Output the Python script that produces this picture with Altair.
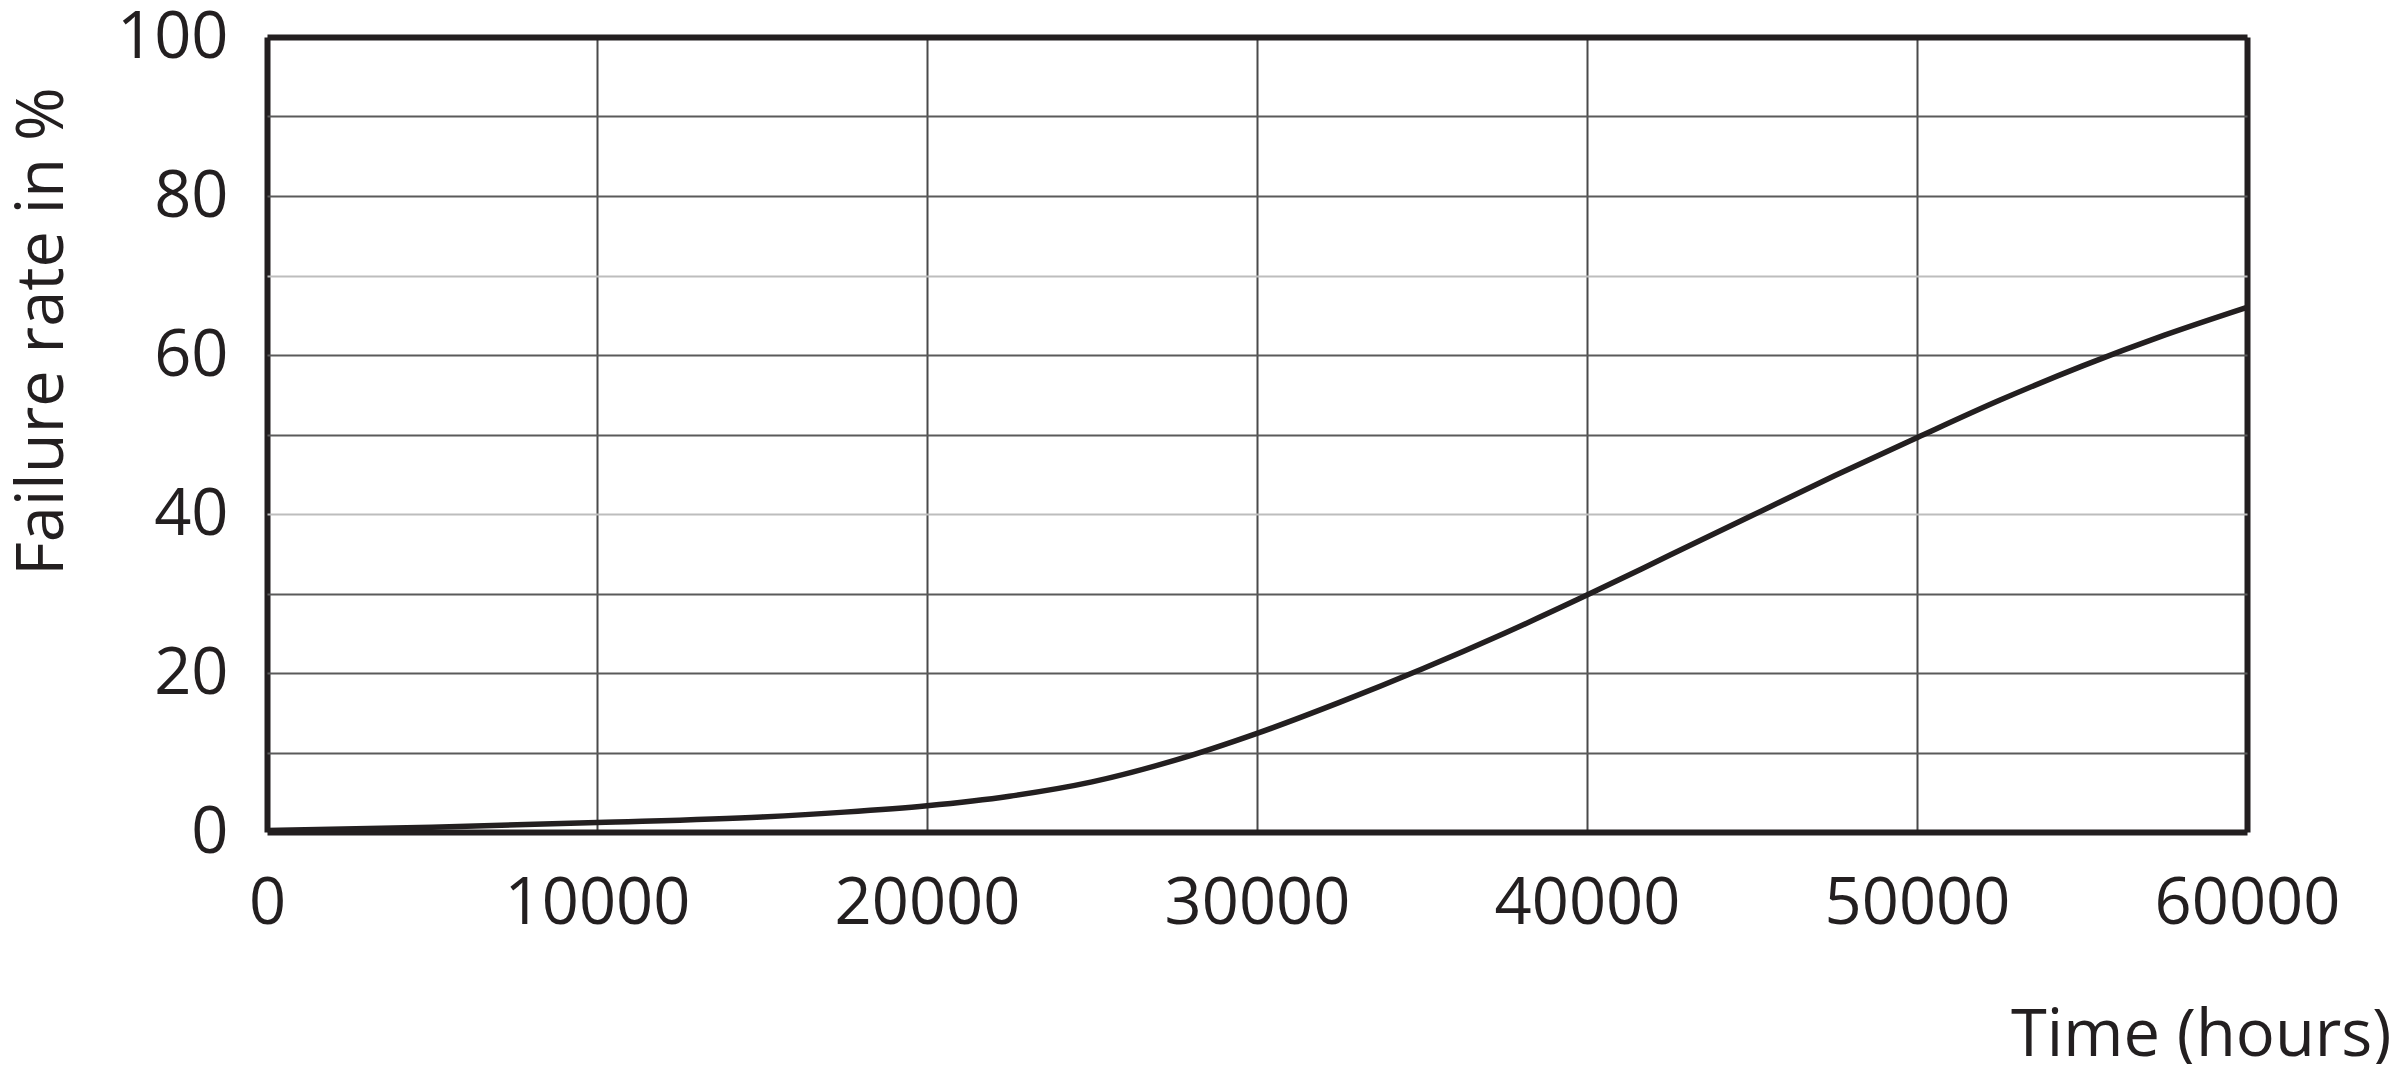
import altair as alt
import pandas as pd

# Time (hours) and failure rate (%)
hours = [0, 5000, 10000, 15000, 17500, 20000, 22500, 25000, 27500, 30000,
         32500, 35000, 37500, 40000, 42500, 45000, 47500, 50000, 52500,
         55000, 57500, 60000]
failure = [0.2, 0.6, 1.2, 1.9, 2.5, 3.3, 4.5, 6.3, 9.0, 12.4,
           16.3, 20.5, 25.0, 29.8, 34.8, 39.8, 44.8, 49.6, 54.3,
           58.6, 62.5, 66.0]

x_ticks = [0, 10000, 20000, 30000, 40000, 50000, 60000]
y_ticks = [0, 10, 20, 30, 40, 50, 60, 70, 80, 90, 100]

df = pd.DataFrame({"t": hours, "f": failure})

FONT = "Open Sans"
INK = "#231f20"

chart = (
    alt.Chart(df)
    .mark_line(color=INK, strokeWidth=5.5, interpolate="monotone", clip=True)
    .encode(
        x=alt.X(
            "t:Q",
            scale=alt.Scale(domain=[0, 60000], nice=False, zero=False),
            axis=alt.Axis(
                values=x_ticks,
                format="d",
                title="Time (hours)",
                titleFont=FONT,
                titleFontSize=65,
                titleFontWeight="normal",
                titleColor=INK,
                titleAlign="right",
                titleAnchor=None,
                titleX=2124,
                titleY=223,
                titleBaseline="alphabetic",
                titleLimit=0,
                labelFont=FONT,
                labelFontSize=65,
                labelColor=INK,
                labelPadding=40,
                labelLimit=0,
                labelFlush=False,
                labelOverlap=False,
                ticks=False,
                domain=False,
                grid=True,
                gridColor={
                    "condition": {
                        "test": "datum.value == 0 || datum.value == 60000",
                        "value": INK,
                    },
                    "value": "#4a4a4a",
                },
                gridWidth={
                    "condition": {
                        "test": "datum.value == 0 || datum.value == 60000",
                        "value": 6,
                    },
                    "value": 2,
                },
            ),
        ),
        y=alt.Y(
            "f:Q",
            scale=alt.Scale(domain=[0, 100], nice=False, zero=False),
            axis=alt.Axis(
                values=y_ticks,
                labelExpr="datum.value % 20 == 0 ? datum.label : ''",
                title="Failure rate in %",
                titleFont=FONT,
                titleFontSize=65,
                titleFontWeight="normal",
                titleColor=INK,
                titleAngle=-90,
                titleAlign="center",
                titleAnchor=None,
                titleBaseline="alphabetic",
                titleX=-205,
                titleY=294,
                titleLimit=0,
                labelFont=FONT,
                labelFontSize=65,
                labelColor=INK,
                labelPadding=39,
                labelLimit=0,
                labelFlush=False,
                labelOverlap=False,
                ticks=False,
                domain=False,
                grid=True,
                gridColor={
                    "condition": [
                        {"test": "datum.value == 0 || datum.value == 100", "value": INK},
                        {"test": "datum.value == 40 || datum.value == 70", "value": "#bdbdbd"},
                    ],
                    "value": "#5a5a5a",
                },
                gridWidth={
                    "condition": {
                        "test": "datum.value == 0 || datum.value == 100",
                        "value": 6,
                    },
                    "value": 2,
                },
            ),
        ),
    )
    .properties(
        width=1980,
        height=795,
        autosize=alt.AutoSizeParams(type="none"),
        padding={"left": 259, "top": 29, "right": 145, "bottom": 232},
    )
    .configure_view(stroke=INK, strokeWidth=6)
    .configure(background="white")
)

chart.save("out.html", embed_options={"renderer": "svg", "actions": False})
